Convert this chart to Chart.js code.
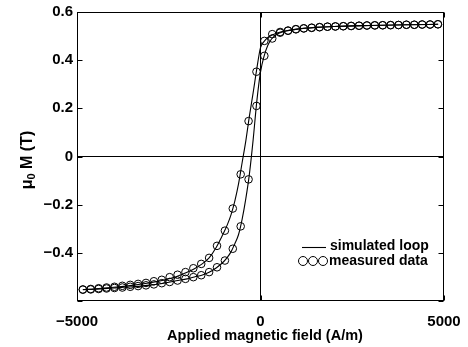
<!DOCTYPE html>
<html>
<head>
<meta charset="utf-8">
<script src="https://cdn.jsdelivr.net/npm/chart.js@4.4.1/dist/chart.umd.min.js"></script>
<style>
  html, body { margin: 0; padding: 0; background: #fff; }
  #wrap { width: 468px; height: 347px; }
</style>
</head>
<body>
<div id="wrap"><canvas id="loop"></canvas></div>
<script>
// measured field values (A/m), same for both branches
const measH = [-4840, -4625, -4410, -4195, -3980, -3765, -3550, -3335, -3120, -2905,
  -2690, -2475, -2260, -2045, -1830, -1615, -1400, -1185, -970, -755,
  -540, -325, -110, 105, 320, 535, 750, 965, 1180, 1395,
  1610, 1825, 2040, 2255, 2470, 2685, 2900, 3115, 3330, 3545,
  3760, 3975, 4190, 4405, 4620, 4835];

// descending branch (upper-left)
const measDown = [-0.552, -0.550, -0.547, -0.544, -0.541, -0.537, -0.533, -0.529, -0.525, -0.518,
  -0.512, -0.501, -0.491, -0.480, -0.464, -0.446, -0.421, -0.371, -0.308, -0.216,
  -0.074, 0.147, 0.352, 0.480, 0.508, 0.517, 0.523, 0.529, 0.532, 0.535,
  0.537, 0.539, 0.540, 0.541, 0.542, 0.543, 0.544, 0.545, 0.545, 0.546,
  0.546, 0.547, 0.547, 0.548, 0.548, 0.549];

// ascending branch (lower-right)
const measUp = [-0.553, -0.552, -0.550, -0.548, -0.546, -0.544, -0.541, -0.538, -0.535, -0.531,
  -0.526, -0.521, -0.515, -0.508, -0.501, -0.493, -0.480, -0.460, -0.432, -0.383,
  -0.290, -0.095, 0.210, 0.418, 0.490, 0.514, 0.522, 0.528, 0.532, 0.534,
  0.537, 0.539, 0.540, 0.541, 0.542, 0.543, 0.544, 0.544, 0.545, 0.545,
  0.546, 0.547, 0.547, 0.548, 0.548, 0.549];

// simulated loop
const simH = [-4840, -4500, -4000, -3500, -3000, -2600, -2300, -2000, -1800, -1600,
  -1400, -1200, -1000, -900, -800, -700, -600, -500, -400, -300,
  -200, -100, 0, 100, 200, 300, 400, 500, 700, 1000,
  1500, 2000, 3000, 4000, 4840];

const simDown = [-0.552, -0.549, -0.543, -0.535, -0.524, -0.512, -0.499, -0.481, -0.466, -0.447,
  -0.421, -0.376, -0.316, -0.282, -0.240, -0.185, -0.115, -0.025, 0.065, 0.170,
  0.265, 0.365, 0.452, 0.478, 0.494, 0.503, 0.510, 0.515, 0.522, 0.529,
  0.536, 0.540, 0.544, 0.547, 0.549];

const simUp = [-0.553, -0.551, -0.546, -0.541, -0.534, -0.525, -0.516, -0.508, -0.500, -0.493,
  -0.481, -0.462, -0.436, -0.418, -0.395, -0.362, -0.325, -0.260, -0.175, -0.070,
  0.070, 0.230, 0.350, 0.418, 0.462, 0.488, 0.503, 0.512, 0.521, 0.529,
  0.536, 0.540, 0.544, 0.547, 0.549];

const xTicks = [-5000, 0, 5000];
const yHidden = -0.6;

const FONT = "'Liberation Sans', Arial, Helvetica, sans-serif";
const pts = (xs, ys) => xs.map((x, i) => ({ x: x, y: ys[i] }));
const minus = s => s.replace('-', '\u2212');

const lineStyle = {
  showLine: true, borderColor: '#000', borderWidth: 1.1, pointRadius: 0,
  cubicInterpolationMode: 'monotone', fill: false
};
const markStyle = {
  showLine: false, pointRadius: 3.8, pointBorderWidth: 1,
  pointBorderColor: '#000', pointBackgroundColor: 'rgba(0,0,0,0)'
};

// box, inward ticks, axis titles and the legend
const decor = {
  id: 'decor',
  afterDraw(chart) {
    const { ctx, chartArea: a, scales } = chart;
    ctx.save();
    ctx.strokeStyle = '#000';
    ctx.lineWidth = 1;
    const L = Math.round(a.left) + 0.5, R = Math.round(a.right) - 0.5;
    const T = Math.round(a.top) + 0.5, B = Math.round(a.bottom) - 0.5;
    ctx.strokeRect(L, T, R - L, B - T);

    ctx.beginPath();
    scales.x.ticks.forEach(t => {
      const px = Math.round(scales.x.getPixelForValue(t.value)) + 0.5;
      ctx.moveTo(px, B); ctx.lineTo(px, B - 5);
      ctx.moveTo(px, T); ctx.lineTo(px, T + 5);
    });
    scales.y.ticks.forEach(t => {
      const py = Math.round(scales.y.getPixelForValue(t.value)) + 0.5;
      ctx.moveTo(L, py); ctx.lineTo(L + 5, py);
      ctx.moveTo(R, py); ctx.lineTo(R - 5, py);
    });
    ctx.stroke();

    ctx.fillStyle = '#000';
    // x title
    ctx.font = 'bold 14.5px ' + FONT;
    ctx.textAlign = 'center';
    ctx.textBaseline = 'alphabetic';
    ctx.fillText('Applied magnetic field (A/m)', 265, 340);

    // y title with subscript
    ctx.save();
    ctx.translate(32, 160);
    ctx.rotate(-Math.PI / 2);
    const big = 'bold 16px ' + FONT, small = 'bold 11px ' + FONT;
    ctx.font = big; const w1 = ctx.measureText('\u03bc').width;
    const w3 = ctx.measureText(' M (T)').width;
    ctx.font = small; const w2 = ctx.measureText('0').width;
    let x0 = -(w1 + w2 + w3) / 2;
    ctx.textAlign = 'left';
    ctx.font = big; ctx.fillText('\u03bc', x0, 0);
    ctx.font = small; ctx.fillText('0', x0 + w1, 3);
    ctx.font = big; ctx.fillText(' M (T)', x0 + w1 + w2, 0);
    ctx.restore();

    // legend
    const ds = chart.data.datasets;
    ctx.font = 'bold 14px ' + FONT;
    ctx.textAlign = 'left';
    ctx.textBaseline = 'middle';
    ctx.strokeStyle = ds[0].borderColor;
    ctx.lineWidth = ds[0].borderWidth;
    ctx.beginPath();
    ctx.moveTo(302, 247.5); ctx.lineTo(326, 247.5);
    ctx.stroke();
    ctx.fillText('simulated loop', 330, 246);
    ctx.lineWidth = 1;
    [303, 313, 323].forEach(cx => {
      ctx.beginPath();
      ctx.arc(cx, 261, 4.5, 0, Math.PI * 2);
      ctx.stroke();
    });
    ctx.fillText('measured data', 329, 261);
    ctx.restore();
  }
};

new Chart(document.getElementById('loop'), {
  type: 'scatter',
  data: {
    datasets: [
      Object.assign({ label: 'simulated loop', data: pts(simH, simDown) }, lineStyle),
      Object.assign({ label: 'simulated loop up', data: pts(simH, simUp) }, lineStyle),
      Object.assign({ label: 'measured data', data: pts(measH, measDown) }, markStyle),
      Object.assign({ label: 'measured data up', data: pts(measH, measUp) }, markStyle)
    ]
  },
  options: {
    responsive: true,
    maintainAspectRatio: false,
    animation: false,
    layout: { padding: { top: 12, right: 24, left: 0, bottom: 0 } },
    plugins: { legend: { display: false }, tooltip: { enabled: false } },
    scales: {
      x: {
        type: 'linear', min: -5000, max: 5000,
        afterBuildTicks: s => { s.ticks = xTicks.map(v => ({ value: v })); },
        afterFit: s => { s.height = 46; s.paddingLeft = 0; s.paddingRight = 0; },
        border: { display: false },
        grid: {
          drawTicks: false,
          color: c => (c.tick && c.tick.value === 0 ? '#000' : 'rgba(0,0,0,0)'),
          lineWidth: 1
        },
        ticks: {
          padding: 12, color: '#000', maxRotation: 0,
          font: { family: FONT, size: 15, weight: 'bold' },
          callback: v => minus(String(v))
        }
      },
      y: {
        type: 'linear', min: -0.6, max: 0.6,
        afterFit: s => { s.width = 77; s.paddingTop = 0; s.paddingBottom = 0; },
        border: { display: false },
        grid: {
          drawTicks: false,
          color: c => (c.tick && Math.abs(c.tick.value) < 1e-9 ? '#000' : 'rgba(0,0,0,0)'),
          lineWidth: 1
        },
        ticks: {
          stepSize: 0.2, padding: 4, color: '#000',
          font: { family: FONT, size: 15, weight: 'bold' },
          callback: v => {
            const r = Math.round(v * 10) / 10;
            if (Math.abs(r - yHidden) < 1e-9) return '';
            return r === 0 ? '0' : minus(r.toFixed(1));
          }
        }
      }
    }
  },
  plugins: [decor]
});
</script>
</body>
</html>
